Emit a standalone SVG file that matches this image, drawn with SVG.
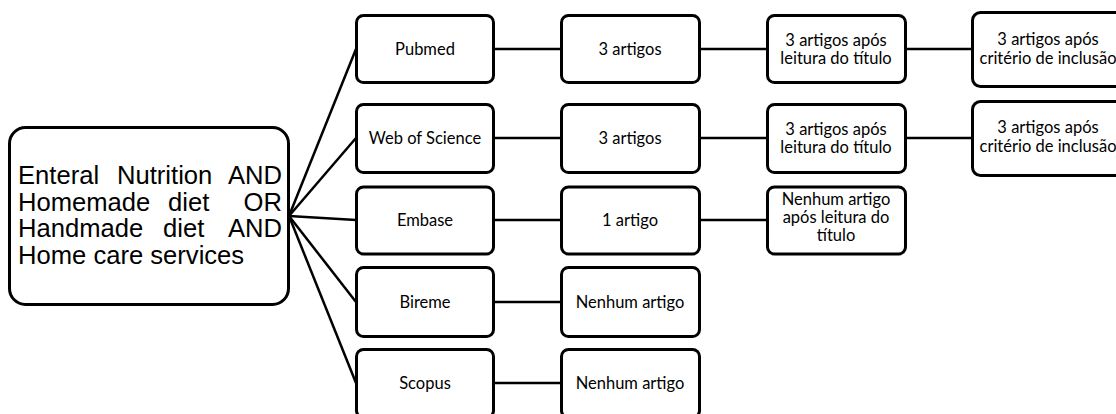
<svg xmlns="http://www.w3.org/2000/svg" width="1116" height="414" viewBox="0 0 1116 414">
<style>
.box{fill:#fff;stroke:#000;stroke-width:3}
.lbl{font-family:Lato,"Open Sans",sans-serif;font-size:16.5px;fill:#000;text-anchor:middle}
.root{font-family:"Liberation Sans",Arial,sans-serif;font-size:25.6px;fill:#000}
.end{text-anchor:end}
#connectors line{stroke:#000;stroke-width:2.5}
</style>
<rect width="1116" height="414" fill="#fff"/>
<g id="connectors">
<line x1="289" y1="216" x2="356" y2="49"/>
<line x1="289" y1="216" x2="356" y2="138"/>
<line x1="289" y1="216" x2="356" y2="220"/>
<line x1="289" y1="216" x2="356" y2="302"/>
<line x1="289" y1="216" x2="356" y2="383"/>
<line x1="493" y1="49" x2="561" y2="49"/>
<line x1="700" y1="49" x2="767" y2="49"/>
<line x1="906" y1="49" x2="972" y2="49"/>
<line x1="493" y1="138" x2="561" y2="138"/>
<line x1="700" y1="138" x2="767" y2="138"/>
<line x1="906" y1="138" x2="972" y2="138"/>
<line x1="493" y1="220" x2="561" y2="220"/>
<line x1="700" y1="220" x2="767" y2="220"/>
<line x1="493" y1="302" x2="561" y2="302"/>
<line x1="493" y1="383" x2="561" y2="383"/>
</g>
<g id="root">
<rect class="box" x="9.5" y="127.5" width="279" height="177" rx="16"/>
<text class="root" x="18" y="184">Enteral</text>
<text class="root" x="117" y="184">Nutrition</text>
<text class="root end" x="282" y="184">AND</text>
<text class="root" x="18" y="210.5">Homemade</text>
<text class="root" x="168" y="210.5">diet</text>
<text class="root end" x="282" y="210.5">OR</text>
<text class="root" x="18" y="237">Handmade</text>
<text class="root" x="163" y="237">diet</text>
<text class="root end" x="282" y="237">AND</text>
<text class="root" x="18" y="263.5">Home care services</text>
</g>
<g id="pubmed">
<rect class="box" x="356.5" y="15.5" width="137" height="67" rx="7"/>
<text class="lbl" x="425" y="55">Pubmed</text>
</g>
<g id="wos">
<rect class="box" x="356.5" y="104.5" width="137" height="68" rx="7"/>
<text class="lbl" x="425" y="144">Web of Science</text>
</g>
<g id="embase">
<rect class="box" x="356.5" y="187" width="137" height="67" rx="7"/>
<text class="lbl" x="425" y="226">Embase</text>
</g>
<g id="bireme">
<rect class="box" x="356.5" y="267.5" width="137" height="69" rx="7"/>
<text class="lbl" x="425" y="308">Bireme</text>
</g>
<g id="scopus">
<rect class="box" x="356.5" y="349.5" width="137" height="68" rx="7"/>
<text class="lbl" x="425" y="389">Scopus</text>
</g>
<g id="pubmed-n">
<rect class="box" x="561.5" y="15.5" width="138" height="67" rx="7"/>
<text class="lbl" x="630" y="55">3 artigos</text>
</g>
<g id="wos-n">
<rect class="box" x="561.5" y="104.5" width="138" height="68" rx="7"/>
<text class="lbl" x="630" y="144">3 artigos</text>
</g>
<g id="embase-n">
<rect class="box" x="561.5" y="187" width="138" height="67" rx="7"/>
<text class="lbl" x="630" y="226">1 artigo</text>
</g>
<g id="bireme-n">
<rect class="box" x="561.5" y="267.5" width="138" height="69" rx="7"/>
<text class="lbl" x="630" y="308">Nenhum artigo</text>
</g>
<g id="scopus-n">
<rect class="box" x="561.5" y="349.5" width="138" height="68" rx="7"/>
<text class="lbl" x="630" y="389">Nenhum artigo</text>
</g>
<g id="pubmed-t">
<rect class="box" x="767.5" y="15.5" width="138" height="67" rx="7"/>
<text class="lbl" x="836" y="46">3 artigos após</text>
<text class="lbl" x="836" y="64">leitura do título</text>
</g>
<g id="wos-t">
<rect class="box" x="767.5" y="104.5" width="138" height="68" rx="7"/>
<text class="lbl" x="836" y="135">3 artigos após</text>
<text class="lbl" x="836" y="153">leitura do título</text>
</g>
<g id="embase-t">
<rect class="box" x="767.5" y="187" width="138" height="67" rx="7"/>
<text class="lbl" x="836" y="205">Nenhum artigo</text>
<text class="lbl" x="836" y="223">após leitura do</text>
<text class="lbl" x="836" y="241">título</text>
</g>
<g id="pubmed-i">
<rect class="box" x="972.5" y="12.5" width="152" height="74" rx="8"/>
<text class="lbl" x="1048" y="45">3 artigos após</text>
<text class="lbl" x="1048" y="64">critério de inclusão</text>
</g>
<g id="wos-i">
<rect class="box" x="972.5" y="101.5" width="152" height="74" rx="8"/>
<text class="lbl" x="1048" y="133">3 artigos após</text>
<text class="lbl" x="1048" y="152">critério de inclusão</text>
</g>
</svg>
